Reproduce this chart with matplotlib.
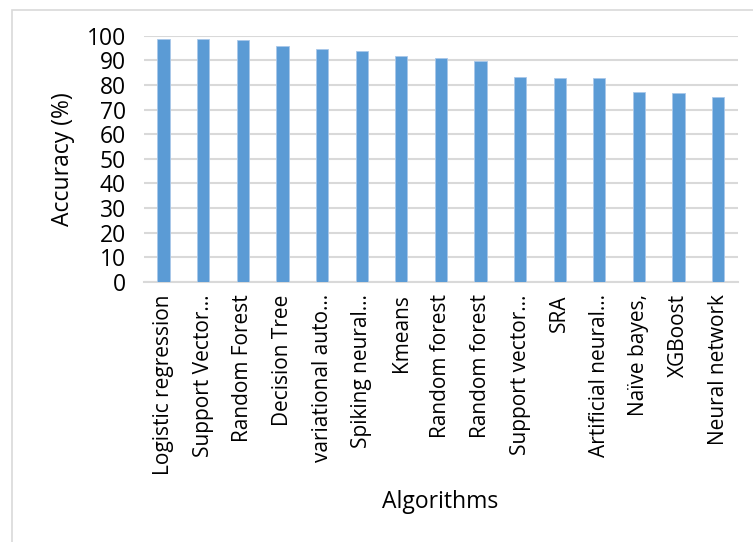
import matplotlib.pyplot as plt
from matplotlib.patches import Rectangle

algorithms = ['Logistic regression', 'Support Vector\u2026', 'Random Forest', 'Decision Tree',
              'variational auto\u2026', 'Spiking neural\u2026', 'Kmeans', 'Random forest',
              'Random forest', 'Support vector\u2026', 'SRA', 'Artificial neural\u2026',
              'Na\u00efve bayes,', 'XGBoost', 'Neural network']
accuracy = [98.7, 98.5, 98.3, 95.7, 94.5, 93.8, 91.9, 90.8, 89.7, 83.3, 82.9, 82.9, 77.2, 76.8, 75.1]
yticks = list(range(0, 101, 10))

plt.rcParams['font.family'] = ['Open Sans', 'DejaVu Sans']

fig = plt.figure(figsize=(7.53, 5.42), dpi=100)
ax = fig.add_axes([0.191, 0.480, 0.789, 0.454])

# chart frame
fig.patches.append(Rectangle((0.016, -0.1), 1.2, 1.0815, transform=fig.transFigure,
                             fill=False, edgecolor='#d9d9d9', linewidth=1.2))

x = range(len(algorithms))
ax.bar(x, accuracy, width=0.31, color='#5b9bd5', edgecolor='#a9c8ea', linewidth=0.6, zorder=3)

ax.set_xlim(-0.5, len(algorithms) - 0.5)
ax.set_ylim(0, 100)
ax.set_yticks(yticks)
ax.yaxis.grid(True, color='#d9d9d9', linewidth=1.5, zorder=0)
ax.set_axisbelow(True)
for s in ['top', 'right', 'left']:
    ax.spines[s].set_visible(False)
ax.spines['bottom'].set_color('#d9d9d9')
ax.spines['bottom'].set_linewidth(1.5)
ax.tick_params(axis='both', length=0)
ax.tick_params(axis='y', labelsize=16.5, pad=13)
ax.set_xticks(list(x))
ax.set_xticklabels(algorithms, rotation=90, fontsize=15)
ax.tick_params(axis='x', pad=9)

ax.set_ylabel('Accuracy (%)', fontsize=16.5, labelpad=8)
fig.text(0.585, 0.074, 'Algorithms', fontsize=16.5, ha='center', va='center')

fig.savefig('out.png', dpi=100)
